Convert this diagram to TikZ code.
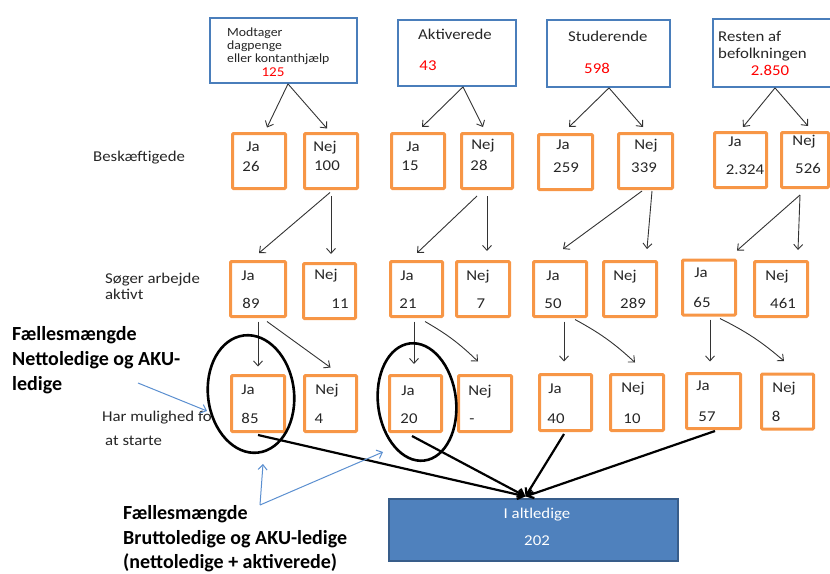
\documentclass[tikz,border=0pt]{standalone}
\usepackage{fontspec}
\setmainfont{Carlito}
\usetikzlibrary{arrows.meta,calc}
\definecolor{obord}{HTML}{F79646}
\definecolor{tbord}{HTML}{4A7EBB}
\definecolor{bfill}{HTML}{4F81BD}
\definecolor{bdraw}{HTML}{385D8A}
\definecolor{larr}{HTML}{5B8FD0}
\definecolor{tgray}{HTML}{262626}
\begin{document}
\begin{tikzpicture}[x=1pt,y=-1pt,
 obox/.style={draw=obord,line width=3pt,rounded corners=1pt,inner sep=0,minimum height=55},
 tbox/.style={draw=tbord,line width=1.8pt,inner sep=0},
 txt/.style={inner sep=0,text=tgray,font=\fontsize{15}{17}\selectfont\addfontfeature{FakeStretch=1.12},text height=10pt,text depth=3pt},
 ltxt/.style={txt,anchor=west},
 stxt/.style={inner sep=0,anchor=west,text=tgray,font=\fontsize{12.5}{15}\selectfont\addfontfeature{FakeStretch=1.1},text height=9pt,text depth=3pt},
 rtxt/.style={txt,text=red},
 btxt/.style={inner sep=0,anchor=west,font=\fontsize{20}{22}\selectfont\bfseries,text height=13pt,text depth=4pt},
 wtxt/.style={txt,text=white},
 tarr/.style={draw=black!80,line width=0.9pt,-{Straight Barb[length=5pt,width=9pt]}},
 barr/.style={draw=black,line width=2.2pt,-{Straight Barb[length=6pt,width=9pt]}},
 larrow/.style={draw=larr,line width=1pt,-{Straight Barb[length=5pt,width=9pt]}},
 ell/.style={draw=black,line width=2.6pt}
]
\useasboundingbox (0,0) rectangle (830,573);

% top boxes
\node[tbox,minimum width=147,minimum height=65] (t1) at (283.5,50.5) {};
\node[tbox,minimum width=118,minimum height=66] (t2) at (457,53) {};
\node[tbox,minimum width=123,minimum height=67] (t3) at (608.5,53.5) {};
\node[tbox,minimum width=121,minimum height=68] (t4) at (773.5,53) {};
\node[stxt] (t1a) at (227,33) {Modtager};
\node[stxt] (t1b) at (227,46) {dagpenge};
\node[stxt] (t1c) at (227,59.5) {eller kontanthjælp};
\node[rtxt,font=\fontsize{13.5}{15}\selectfont\addfontfeature{FakeStretch=1.12}] (t1n) at (273,73) {125};
\node[ltxt] (t2a) at (418,36) {Aktiverede};
\node[rtxt] (t2n) at (428,67) {43};
\node[ltxt] (t3a) at (568,38) {Studerende};
\node[rtxt] (t3n) at (597,70) {598};
\node[ltxt] (t4a) at (718,38) {Resten af};
\node[ltxt] (t4b) at (718,55) {befolkningen};
\node[rtxt] (t4n) at (770,72) {2.850};

% row 1
\node[obox,minimum width=53] (r1a) at (259,161) {};
\node[obox,minimum width=53] (r1b) at (331,161) {};
\node[obox,minimum width=53] (r1c) at (418,161) {};
\node[obox,minimum width=51] (r1d) at (487,161) {};
\node[obox,minimum width=54] (r1e) at (565.5,162) {};
\node[obox,minimum width=54] (r1f) at (645.5,161) {};
\node[obox,minimum width=52] (r1g) at (740.5,160) {};
\node[obox,minimum width=47] (r1h) at (805,160) {};
\node[txt] (r1aj) at (253,148) {Ja};   \node[txt] (r1an) at (251,168) {26};
\node[txt] (r1bj) at (325,148) {Nej};  \node[txt] (r1bn) at (327,167) {100};
\node[txt] (r1cj) at (413,148) {Ja};   \node[txt] (r1cn) at (410,167) {15};
\node[txt] (r1dj) at (483,146) {Nej};  \node[txt] (r1dn) at (479,167) {28};
\node[txt] (r1ej) at (563,146) {Ja};   \node[txt] (r1en) at (566,169) {259};
\node[txt] (r1fj) at (646,146) {Nej};  \node[txt] (r1fn) at (644,169) {339};
\node[txt] (r1gj) at (735,143) {Ja};   \node[txt] (r1gn) at (745,171) {2.324};
\node[txt] (r1hj) at (804,142) {Nej};  \node[txt] (r1hn) at (808,170) {526};

% row 2
\node[obox,minimum width=55] (r2a) at (258,289) {};
\node[obox,minimum width=52] (r2b) at (329.5,291) {};
\node[obox,minimum width=52] (r2c) at (416.5,289) {};
\node[obox,minimum width=53] (r2d) at (483,289) {};
\node[obox,minimum width=53] (r2e) at (560,289) {};
\node[obox,minimum width=53] (r2f) at (630,289) {};
\node[obox,minimum width=53] (r2g) at (709,287.5) {};
\node[obox,minimum width=53] (r2h) at (781,289) {};
\node[txt] (r2aj) at (248,277) {Ja};   \node[txt] (r2an) at (251,305) {89};
\node[txt] (r2bj) at (326,276) {Nej};  \node[txt] (r2bn) at (340,305) {11};
\node[txt] (r2cj) at (407,277) {Ja};   \node[txt] (r2cn) at (408,305) {21};
\node[txt] (r2dj) at (478,277) {Nej};  \node[txt] (r2dn) at (481,305) {7};
\node[txt] (r2ej) at (553,277) {Ja};   \node[txt] (r2en) at (553,305) {50};
\node[txt] (r2fj) at (625,277) {Nej};  \node[txt] (r2fn) at (633,305) {289};
\node[txt] (r2gj) at (701,274) {Ja};   \node[txt] (r2gn) at (702,304) {65};
\node[txt] (r2hj) at (777,277) {Nej};  \node[txt] (r2hn) at (783,305) {461};

% row 3
\node[obox,minimum width=53,minimum height=56] (r3a) at (258,403.5) {};
\node[obox,minimum width=52,minimum height=56] (r3b) at (330.5,403.5) {};
\node[obox,minimum width=52,minimum height=56] (r3c) at (415.5,403.5) {};
\node[obox,minimum width=53,minimum height=56] (r3d) at (485,403.5) {};
\node[obox,minimum width=52,minimum height=56] (r3e) at (565.5,402.5) {};
\node[obox,minimum width=53,minimum height=56] (r3f) at (637,402.5) {};
\node[obox,minimum width=54,minimum height=55] (r3g) at (713.5,401) {};
\node[obox,minimum width=52,minimum height=55] (r3h) at (787.5,401.5) {};
\node[txt] (r3aj) at (248,391) {Ja};   \node[txt] (r3an) at (250,420) {85};
\node[txt] (r3bj) at (327,391) {Nej};  \node[txt] (r3bn) at (319,420) {4};
\node[txt] (r3cj) at (408,392) {Ja};   \node[txt] (r3cn) at (409,420) {20};
\node[txt] (r3dj) at (480,392) {Nej};  \node[txt] (r3dn) at (472,420) {-};
\node[txt] (r3ej) at (555,390) {Ja};   \node[txt] (r3en) at (556,420) {40};
\node[txt] (r3fj) at (633,389) {Nej};  \node[txt] (r3fn) at (632,420) {10};
\node[txt] (r3gj) at (703,387) {Ja};   \node[txt] (r3gn) at (707,418) {57};
\node[txt] (r3hj) at (784,389) {Nej};  \node[txt] (r3hn) at (776,418) {8};

% bottom box
\node[draw=bdraw,fill=bfill,line width=1.2pt,minimum width=289,minimum height=62,inner sep=0] (tot) at (533.5,530) {};
\node[wtxt] (totl) at (537,515) {I altledige};
\node[wtxt] (totn) at (537,542) {202};

% row labels
\node[ltxt] (lb1) at (93,158) {Beskæftigede};
\node[ltxt] (lb2a) at (105,280) {Søger arbejde};
\node[ltxt] (lb2b) at (105,296) {aktivt};
\node[ltxt] (lb3a) at (102,418) {Har mulighed fo};
\node[ltxt] (lb3b) at (105,442) {at starte};
\node[btxt] (fa1) at (12,336) {Fællesmængde};
\node[btxt] (fa2) at (12,361) {Nettoledige og AKU-};
\node[btxt] (fa3) at (12,386) {ledige};
\node[btxt] (fb1) at (123,515) {Fællesmængde};
\node[btxt] (fb2) at (123,540) {Bruttoledige og AKU-ledige};
\node[btxt] (fb3) at (123,564) {(nettoledige + aktiverede)};

% arrows top -> row 1
\draw[tarr] ($(t1.south)+(4.5,0)$) -- ($(r1a.north)+(8,-4.5)$);
\draw[tarr] ($(t1.south)+(4.5,0)$) -- ($(r1b.north)+(-4,-3.5)$);
\draw[tarr] ($(t2.south)+(6,0)$) -- ($(r1c.north)+(4,-5)$);
\draw[tarr] ($(t2.south)+(6,0)$) -- ($(r1d.north)+(-4,-5)$);
\draw[tarr] ($(t3.south)+(0.5,0)$) -- ($(r1e.north)+(3.5,-6)$);
\draw[tarr] ($(t3.south)+(0.5,0)$) -- ($(r1f.north)+(-2.5,-5)$);
\draw[tarr] ($(t4.south)+(1.5,0)$) -- ($(r1g.north)+(2.5,-4)$);
\draw[tarr] ($(t4.south)+(1.5,0)$) -- ($(r1h.north)+(3,-5)$);

% row 1 -> row 2
\draw[tarr] ($(r1b.south)+(-1,2.5)$) -- ($(r2a.north)+(1,-7)$);
\draw[tarr] ($(r1b.south)+(0,6)$) -- ($(r2b.north)+(1.5,-8)$);
\draw[tarr] ($(r1d.south)+(-10,6)$) -- ($(r2c.north)+(0.5,-7)$);
\draw[tarr] ($(r1d.south)+(0,6)$) -- ($(r2d.north)+(4,-9)$);
\draw[tarr] ($(r1f.south)+(-3.5,1)$) -- ($(r2e.north)+(3,-11)$);
\draw[tarr] ($(r1f.south)+(6.5,1)$) -- ($(r2f.north)+(17,-11)$);
\draw[tarr] ($(r1h.south)+(-5,6)$) -- ($(r2g.north)+(28,-8)$);
\draw[tarr] ($(r1h.south)+(-5,6)$) -- ($(r2h.north)+(17,-10)$);

% row 2 -> row 3
\draw[tarr] ($(r2a.south)+(0,3.5)$) -- ($(r3a.north)+(0,-7.5)$);
\draw[tarr] ($(r2a.south)+(9,3.5)$) -- ($(r3b.north)+(0,-6.5)$);
\draw[tarr] ($(r2c.south)+(-2.5,3.5)$) -- ($(r3c.north)+(-1.5,-10)$);
\draw[tarr] ($(r2c.south)+(8.5,3.5)$) to[bend left=7] ($(r3d.north)+(-7,-12.5)$);
\draw[tarr] ($(r2e.south)+(4,3.5)$) -- ($(r3e.north)+(-1.5,-11.5)$);
\draw[tarr] ($(r2e.south)+(15,1.5)$) to[bend left=7] ($(r3f.north)+(-2,-10.5)$);
\draw[tarr] ($(r2g.south)+(1,3)$) -- ($(r3g.north)+(-3.5,-10.5)$);
\draw[tarr] ($(r2g.south)+(11,2)$) to[bend left=7] ($(r3h.north)+(-3.5,-11.5)$);

% row 3 -> total
\draw[barr] ($(r3a.south)+(0,2)$) -- ($(tot.north)+(-8,-2)$);
\draw[barr] ($(r3c.south)+(-3.5,3)$) -- ($(tot.north)+(-8,-2)$);
\draw[barr] ($(r3e.south)+(-1.5,2)$) -- ($(tot.north)+(-8,-2)$);
\draw[barr] ($(r3g.south)+(1.5,1)$) -- ($(tot.north)+(-8,-2)$);

% ellipses
\coordinate (e1c) at (251,394);
\coordinate (e2c) at (417,402);
\draw[ell,rotate around={7:(e1c)}] (e1c) ellipse [x radius=43, y radius=59];
\draw[ell,rotate around={7:(e2c)}] (e2c) ellipse [x radius=39, y radius=59];

% blue pointer arrows
\coordinate (la1) at (138,383);
\coordinate (la1e) at (207,411);
\draw[larrow] (la1) -- (la1e);
\coordinate (jb) at (260,505);
\coordinate (jbu) at (263,464);
\coordinate (jbr) at (383,452);
\draw[larrow] (jb) -- (jbu);
\draw[larrow] (jb) -- (jbr);
\end{tikzpicture}
\end{document}
